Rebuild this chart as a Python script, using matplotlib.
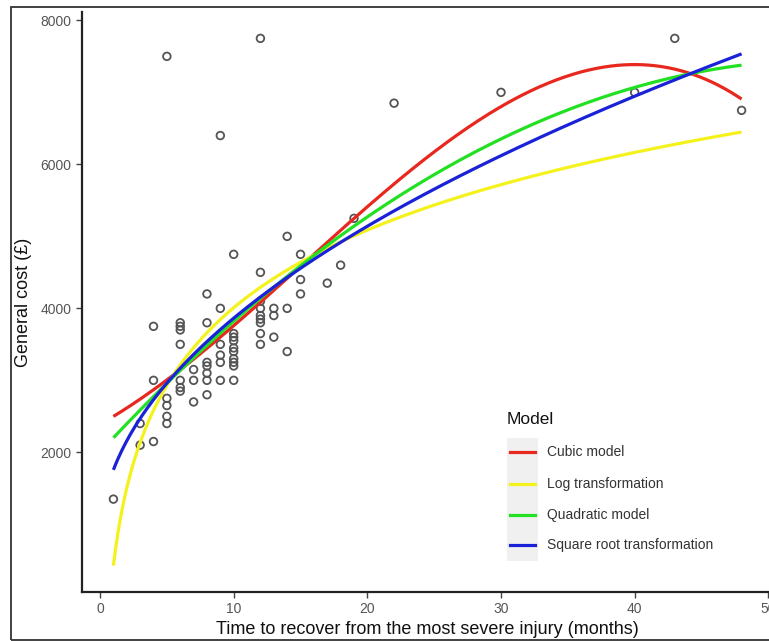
import numpy as np
import matplotlib
matplotlib.use("Agg")
import matplotlib.pyplot as plt
from matplotlib.patches import Rectangle
from matplotlib.lines import Line2D

# ---- data ----
months = [1, 3, 3, 4, 4, 4, 5, 5, 5, 5, 5,
          6, 6, 6, 6, 6, 6, 6, 7, 7, 7,
          8, 8, 8, 8, 8, 8, 8, 9, 9, 9, 9, 9, 9,
          10, 10, 10, 10, 10, 10, 10, 10, 10, 10,
          12, 12, 12, 12, 12, 12, 12, 12, 12,
          13, 13, 13, 14, 14, 14, 15, 15, 15,
          17, 18, 19, 22, 30, 40, 43, 48]
cost = [1350, 2400, 2100, 2150, 3000, 3750, 2400, 2500, 2650, 2750, 7500,
        2850, 2900, 3000, 3500, 3700, 3750, 3800, 2700, 3000, 3150,
        2800, 3000, 3100, 3200, 3250, 3800, 4200, 3000, 3250, 3350, 3500, 4000, 6400,
        3000, 3200, 3250, 3300, 3400, 3450, 3550, 3600, 3650, 4750,
        3500, 3650, 3800, 3850, 3900, 4000, 4100, 4500, 7750,
        3600, 3900, 4000, 3400, 4000, 5000, 4200, 4400, 4750,
        4350, 4600, 5250, 6850, 7000, 7000, 7750, 6750]

models = ["Cubic model", "Log transformation", "Quadratic model", "Square root transformation"]
model_colors = ["#e8281e", "#f4f21c", "#22e022", "#1a22d8"]
x_ticks = [0, 10, 20, 30, 40, 50]
y_ticks = [2000, 4000, 6000, 8000]

x = np.array(months, dtype=float)
y = np.array(cost, dtype=float)
xs = np.linspace(x.min(), x.max(), 300)

# fitted models
c3 = np.polyfit(x, y, 3)
c2 = np.polyfit(x, y, 2)
cl = np.polyfit(np.log(x), y, 1)
cs = np.polyfit(np.sqrt(x), y, 1)
fits = [np.polyval(c3, xs), np.polyval(cl, np.log(xs)),
        np.polyval(c2, xs), np.polyval(cs, np.sqrt(xs))]

W, H = 769, 641
fig = plt.figure(figsize=(W / 100, H / 100), dpi=100)
plt.rcParams['font.family'] = ['Liberation Sans', 'DejaVu Sans']


def fx(p):
    return p / W


def fy(p):
    return 1 - p / H


ax = fig.add_axes([82 / W, (H - 592) / H, (773 - 82) / W, (592 - 12) / H])

ax.scatter(x, y, s=30, facecolors='none', edgecolors='#555555', linewidths=1.3, zorder=2)
for f, c in zip(fits, model_colors):
    ax.plot(xs, f, color=c, lw=2.3, zorder=3, solid_capstyle='butt')

allv = np.concatenate([y] + fits)
rng = allv.max() - allv.min()
ax.set_ylim(allv.min() - 0.05 * rng, allv.max() + 0.05 * rng)
xr = x.max() - x.min()
ax.set_xlim(x.min() - 0.05 * xr, x.max() + 0.05 * xr)

ax.set_xticks(x_ticks)
ax.set_yticks(y_ticks)
ax.tick_params(axis='both', colors='#444444', labelsize=10, length=4, width=1,
               labelcolor='#555555')
for s in ['top', 'right']:
    ax.spines[s].set_visible(False)
for s in ['left', 'bottom']:
    ax.spines[s].set_color('#222222')
    ax.spines[s].set_linewidth(1.6)

ax.set_xlabel("Time to recover from the most severe injury (months)", fontsize=13,
              color='#111111', labelpad=3)
ax.set_ylabel("General cost (£)", fontsize=13, color='#111111', labelpad=6)

# legend (ggplot style, grey key backgrounds)
fig.text(fx(507), fy(419), "Model", fontsize=12.5, color='#111111', va='center', ha='left')
fig.patches.append(Rectangle((fx(507), fy(561)), (538 - 507) / W, (561 - 438) / H,
                             transform=fig.transFigure, facecolor='#f0f0f0',
                             edgecolor='none', zorder=5))
rows = [452, 484, 515, 545]
for lab, c, r in zip(models, model_colors, rows):
    fig.add_artist(Line2D([fx(510), fx(535)], [fy(r), fy(r)], color=c, lw=2.3,
                          transform=fig.transFigure, zorder=6))
    fig.text(fx(547), fy(r), lab, fontsize=10, color='#333333', va='center', ha='left',
             zorder=6)

# outer frame
fig.patches.append(Rectangle((11 / W, 1 / H), 1.0, (H - 8) / H, transform=fig.transFigure,
                             fill=False, edgecolor='#333333', lw=1.3))

fig.savefig("out.png", dpi=100)
